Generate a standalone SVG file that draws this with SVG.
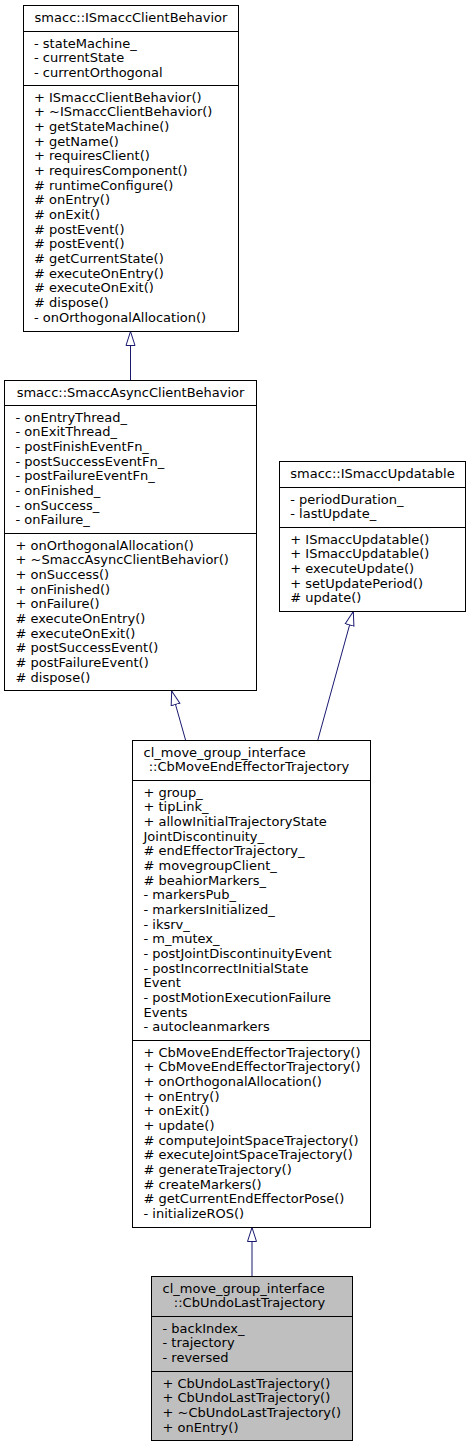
<svg xmlns="http://www.w3.org/2000/svg" width="472" height="1447" viewBox="0 0 472 1447">
<style>
.box{fill:#ffffff;stroke:#000000;stroke-width:1}
.main{fill:#bfbfbf;stroke:#000000;stroke-width:1}
.sep{stroke:#000000;stroke-width:1}
text{font-family:"DejaVu Sans","Liberation Sans",sans-serif;font-size:13px;fill:#000000}
.c{text-anchor:middle}
.edge{fill:none;stroke:#191970;stroke-width:1;marker-end:url(#inh)}
</style>
<defs>
<marker id="inh" markerUnits="userSpaceOnUse" viewBox="0 0 15 11" refX="14.5" refY="5.5" markerWidth="15" markerHeight="11" orient="auto">
<path d="M0.5,1 L14.5,5.5 L0.5,10 Z" fill="#ffffff" stroke="#191970" stroke-width="1"/>
</marker>
</defs>
<g id="connectors">
<path class="edge" d="M130.5,380.5 L130.5,331.5"/>
<path class="edge" d="M185.7,740.5 L171.7,691"/>
<path class="edge" d="M317.7,740.5 L353.3,611.5"/>
<path class="edge" d="M252,1276.5 L252,1227.5"/>
</g>
<g id="ISmaccClientBehavior">
<rect class="box" x="23.5" y="5.5" width="215" height="326"/>
<line class="sep" x1="23.5" y1="31.5" x2="238.5" y2="31.5"/>
<line class="sep" x1="23.5" y1="85.5" x2="238.5" y2="85.5"/>
<text class="c" x="131" y="22">smacc::ISmaccClientBehavior</text>
<text x="34"><tspan x="34" y="47.7">- stateMachine_</tspan><tspan x="34" dy="14.67">- currentState</tspan><tspan x="34" dy="14.67">- currentOrthogonal</tspan></text>
<text x="34"><tspan x="34" y="101.7">+ ISmaccClientBehavior()</tspan><tspan x="34" dy="14.67">+ ~ISmaccClientBehavior()</tspan><tspan x="34" dy="14.67">+ getStateMachine()</tspan><tspan x="34" dy="14.67">+ getName()</tspan><tspan x="34" dy="14.67">+ requiresClient()</tspan><tspan x="34" dy="14.67">+ requiresComponent()</tspan><tspan x="34" dy="14.67"># runtimeConfigure()</tspan><tspan x="34" dy="14.67"># onEntry()</tspan><tspan x="34" dy="14.67"># onExit()</tspan><tspan x="34" dy="14.67"># postEvent()</tspan><tspan x="34" dy="14.67"># postEvent()</tspan><tspan x="34" dy="14.67"># getCurrentState()</tspan><tspan x="34" dy="14.67"># executeOnEntry()</tspan><tspan x="34" dy="14.67"># executeOnExit()</tspan><tspan x="34" dy="14.67"># dispose()</tspan><tspan x="34" dy="14.67">- onOrthogonalAllocation()</tspan></text>
</g>
<g id="SmaccAsyncClientBehavior">
<rect class="box" x="4.5" y="380.5" width="252" height="310"/>
<line class="sep" x1="4.5" y1="405.5" x2="256.5" y2="405.5"/>
<line class="sep" x1="4.5" y1="533.5" x2="256.5" y2="533.5"/>
<text class="c" x="130.5" y="396.7">smacc::SmaccAsyncClientBehavior</text>
<text x="15.5"><tspan x="15.5" y="421.7">- onEntryThread_</tspan><tspan x="15.5" dy="14.67">- onExitThread_</tspan><tspan x="15.5" dy="14.67">- postFinishEventFn_</tspan><tspan x="15.5" dy="14.67">- postSuccessEventFn_</tspan><tspan x="15.5" dy="14.67">- postFailureEventFn_</tspan><tspan x="15.5" dy="14.67">- onFinished_</tspan><tspan x="15.5" dy="14.67">- onSuccess_</tspan><tspan x="15.5" dy="14.67">- onFailure_</tspan></text>
<text x="15.5"><tspan x="15.5" y="549.7">+ onOrthogonalAllocation()</tspan><tspan x="15.5" dy="14.67">+ ~SmaccAsyncClientBehavior()</tspan><tspan x="15.5" dy="14.67">+ onSuccess()</tspan><tspan x="15.5" dy="14.67">+ onFinished()</tspan><tspan x="15.5" dy="14.67">+ onFailure()</tspan><tspan x="15.5" dy="14.67"># executeOnEntry()</tspan><tspan x="15.5" dy="14.67"># executeOnExit()</tspan><tspan x="15.5" dy="14.67"># postSuccessEvent()</tspan><tspan x="15.5" dy="14.67"># postFailureEvent()</tspan><tspan x="15.5" dy="14.67"># dispose()</tspan></text>
</g>
<g id="ISmaccUpdatable">
<rect class="box" x="279.5" y="461.5" width="186" height="150"/>
<line class="sep" x1="279.5" y1="487.5" x2="465.5" y2="487.5"/>
<line class="sep" x1="279.5" y1="527.5" x2="465.5" y2="527.5"/>
<text class="c" x="372.5" y="478">smacc::ISmaccUpdatable</text>
<text x="290.3"><tspan x="290.3" y="503.7">- periodDuration_</tspan><tspan x="290.3" dy="14.67">- lastUpdate_</tspan></text>
<text x="290.3"><tspan x="290.3" y="543.7">+ ISmaccUpdatable()</tspan><tspan x="290.3" dy="14.67">+ ISmaccUpdatable()</tspan><tspan x="290.3" dy="14.67">+ executeUpdate()</tspan><tspan x="290.3" dy="14.67">+ setUpdatePeriod()</tspan><tspan x="290.3" dy="14.67"># update()</tspan></text>
</g>
<g id="CbMoveEndEffectorTrajectory">
<rect class="box" x="132.5" y="740.5" width="238" height="487"/>
<line class="sep" x1="132.5" y1="780.5" x2="370.5" y2="780.5"/>
<line class="sep" x1="132.5" y1="1040.5" x2="370.5" y2="1040.5"/>
<text x="143.5" y="756.7">cl_move_group_interface</text>
<text class="c" x="249" y="771.4">::CbMoveEndEffectorTrajectory</text>
<text x="143.5"><tspan x="143.5" y="796.7">+ group_</tspan><tspan x="143.5" dy="14.67">+ tipLink_</tspan><tspan x="143.5" dy="14.67">+ allowInitialTrajectoryState</tspan><tspan x="143.5" dy="14.67">JointDiscontinuity_</tspan><tspan x="143.5" dy="14.67"># endEffectorTrajectory_</tspan><tspan x="143.5" dy="14.67"># movegroupClient_</tspan><tspan x="143.5" dy="14.67"># beahiorMarkers_</tspan><tspan x="143.5" dy="14.67">- markersPub_</tspan><tspan x="143.5" dy="14.67">- markersInitialized_</tspan><tspan x="143.5" dy="14.67">- iksrv_</tspan><tspan x="143.5" dy="14.67">- m_mutex_</tspan><tspan x="143.5" dy="14.67">- postJointDiscontinuityEvent</tspan><tspan x="143.5" dy="14.67">- postIncorrectInitialState</tspan><tspan x="143.5" dy="14.67">Event</tspan><tspan x="143.5" dy="14.67">- postMotionExecutionFailure</tspan><tspan x="143.5" dy="14.67">Events</tspan><tspan x="143.5" dy="14.67">- autocleanmarkers</tspan></text>
<text x="143.5"><tspan x="143.5" y="1056.7">+ CbMoveEndEffectorTrajectory()</tspan><tspan x="143.5" dy="14.67">+ CbMoveEndEffectorTrajectory()</tspan><tspan x="143.5" dy="14.67">+ onOrthogonalAllocation()</tspan><tspan x="143.5" dy="14.67">+ onEntry()</tspan><tspan x="143.5" dy="14.67">+ onExit()</tspan><tspan x="143.5" dy="14.67">+ update()</tspan><tspan x="143.5" dy="14.67"># computeJointSpaceTrajectory()</tspan><tspan x="143.5" dy="14.67"># executeJointSpaceTrajectory()</tspan><tspan x="143.5" dy="14.67"># generateTrajectory()</tspan><tspan x="143.5" dy="14.67"># createMarkers()</tspan><tspan x="143.5" dy="14.67"># getCurrentEndEffectorPose()</tspan><tspan x="143.5" dy="14.67">- initializeROS()</tspan></text>
</g>
<g id="CbUndoLastTrajectory">
<rect class="main" x="151.5" y="1276.5" width="201" height="164"/>
<line class="sep" x1="151.5" y1="1316.5" x2="352.5" y2="1316.5"/>
<line class="sep" x1="151.5" y1="1371.5" x2="352.5" y2="1371.5"/>
<text x="162.5" y="1292.7">cl_move_group_interface</text>
<text class="c" x="249.5" y="1307.4">::CbUndoLastTrajectory</text>
<text x="162.5"><tspan x="162.5" y="1332.7">- backIndex_</tspan><tspan x="162.5" dy="14.67">- trajectory</tspan><tspan x="162.5" dy="14.67">- reversed</tspan></text>
<text x="162.5"><tspan x="162.5" y="1387.7">+ CbUndoLastTrajectory()</tspan><tspan x="162.5" dy="14.67">+ CbUndoLastTrajectory()</tspan><tspan x="162.5" dy="14.67">+ ~CbUndoLastTrajectory()</tspan><tspan x="162.5" dy="14.67">+ onEntry()</tspan></text>
</g>
</svg>
